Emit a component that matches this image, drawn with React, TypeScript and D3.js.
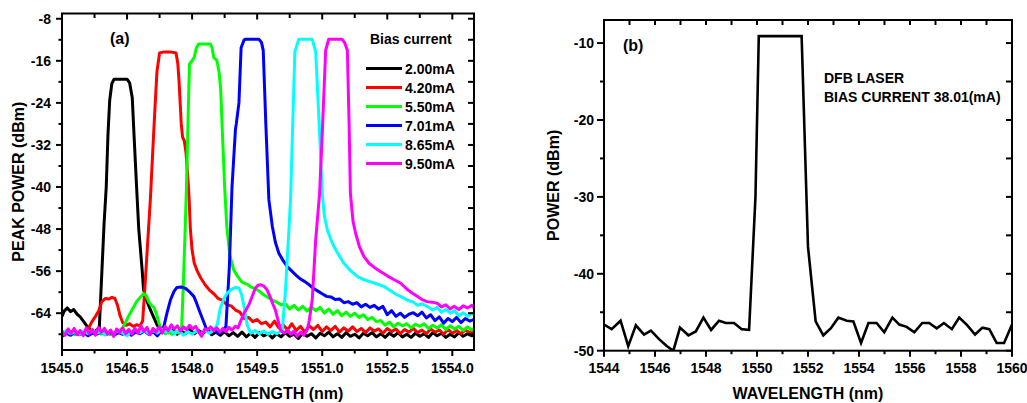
import React from "react";
import * as d3 from "d3";

type Pt = [number, number];

// ---------- Panel (a) data: wavelength (nm), peak power (dBm) ----------
const black200: Pt[] = [
[1545.0,-64.6],[1545.05,-63.6],[1545.12,-63.0],[1545.2,-63.7],[1545.27,-63.3],[1545.35,-64.2],[1545.42,-64.7],[1545.5,-65.6],[1545.58,-66.5],[1545.65,-67.1],[1545.72,-67.7],[1545.8,-67.2],[1545.86,-66.8],[1545.92,-56],[1545.97,-47],[1546.02,-40],[1546.06,-30],[1546.1,-23.5],[1546.15,-20.3],[1546.2,-19.5],[1546.5,-19.5],[1546.56,-20.2],[1546.62,-23],[1546.66,-30],[1546.72,-40],[1546.77,-48],[1546.85,-56],[1546.88,-59.5],[1546.95,-61.5],[1547.02,-63],[1547.1,-64.5],[1547.18,-66],[1547.27,-67.4],
[1547.35,-67.0],[1547.45,-67.7],[1547.55,-67.2],[1547.65,-68.0],[1547.75,-67.4],[1547.85,-67.9],[1547.95,-67.1],[1548.05,-67.9],[1548.15,-67.3],[1548.25,-67.8],[1548.35,-67.2],[1548.45,-68.1],[1548.55,-67.6],[1548.65,-68.2],[1548.75,-67.5],[1548.85,-68.3],[1548.95,-67.7],[1549.05,-68.4],[1549.15,-67.6],[1549.25,-68.5],[1549.35,-67.8],[1549.45,-68.6],[1549.55,-67.7],[1549.65,-68.3],[1549.75,-67.9],[1549.85,-68.7],[1549.95,-67.9],[1550.05,-68.5],[1550.15,-67.7],[1550.25,-68.4],[1550.35,-68.0],[1550.45,-68.8],[1550.55,-67.8],[1550.65,-68.4],[1550.75,-67.9],[1550.85,-68.7],[1550.95,-67.8],[1551.05,-68.3],[1551.15,-67.6],[1551.25,-68.5],[1551.35,-67.9],[1551.45,-68.6],[1551.55,-67.7],[1551.65,-68.4],[1551.75,-68.0],[1551.85,-68.7],[1551.95,-67.8],[1552.05,-68.3],[1552.15,-67.7],[1552.25,-68.5],[1552.35,-67.9],[1552.45,-68.6],[1552.55,-67.8],[1552.65,-68.4],[1552.75,-67.7],[1552.85,-68.5],[1552.95,-68.0],[1553.05,-68.6],[1553.15,-67.8],[1553.25,-68.4],[1553.35,-67.9],[1553.45,-68.6],[1553.55,-67.7],[1553.65,-68.3],[1553.75,-67.8],[1553.85,-68.6],[1553.95,-68.0],[1554.05,-68.5],[1554.15,-67.7],[1554.25,-68.4],[1554.35,-67.9],[1554.45,-68.3],[1554.5,-67.8]];

const red420: Pt[] = [
[1545.0,-68.3],[1545.1,-67.6],[1545.2,-68.0],[1545.3,-67.4],[1545.4,-67.9],[1545.5,-67.5],[1545.6,-67.0],[1545.7,-65.5],[1545.78,-64.5],[1545.85,-63.5],[1545.92,-61.8],[1546.0,-61.2],[1546.08,-61.3],[1546.15,-61.0],[1546.22,-61.2],[1546.28,-62.5],[1546.34,-64.5],[1546.4,-65.8],[1546.48,-66.3],[1546.56,-66.0],[1546.64,-66.5],[1546.72,-66.2],[1546.8,-66.4],[1546.86,-65.5],[1546.92,-58],[1546.98,-50],[1547.04,-42],[1547.1,-32],[1547.15,-24],[1547.19,-18],[1547.25,-14.5],[1547.35,-14.3],[1547.5,-14.3],[1547.63,-14.5],[1547.67,-16.5],[1547.7,-20],[1547.75,-28],[1547.78,-30.5],[1547.82,-31.2],[1547.86,-33.5],[1547.9,-38],[1547.93,-42],[1547.96,-48],[1548.0,-52],[1548.05,-54.5],[1548.12,-56],[1548.2,-57.3],[1548.3,-58.6],[1548.4,-59.6],[1548.5,-60.3],[1548.6,-61.2],[1548.7,-61.5],[1548.8,-62.4],[1548.9,-62.6],[1549.0,-63.4],[1549.1,-63.8],[1549.2,-65.0],[1549.3,-64.8],[1549.4,-65.6],[1549.5,-65.2],[1549.6,-66.0],[1549.7,-65.7],[1549.8,-66.6],[1549.9,-65.5],[1550.0,-66.8],[1550.1,-66.2],[1550.2,-67.2],[1550.3,-66.0],[1550.4,-67.3],[1550.5,-66.5],[1550.6,-67.6],[1550.7,-66.4],[1550.8,-67.1],[1550.9,-66.3],[1551.0,-67.5],[1551.1,-66.6],[1551.2,-67.3],[1551.3,-66.5],[1551.4,-67.6],[1551.5,-66.8],[1551.6,-67.4],[1551.7,-66.6],[1551.8,-67.5],[1551.9,-66.9],[1552.0,-67.7],[1552.1,-66.8],[1552.2,-67.4],[1552.3,-67.0],[1552.4,-67.8],[1552.5,-66.9],[1552.6,-67.5],[1552.7,-67.0],[1552.8,-67.9],[1552.9,-67.1],[1553.0,-67.6],[1553.1,-66.9],[1553.2,-67.7],[1553.3,-67.2],[1553.4,-67.9],[1553.5,-67.0],[1553.6,-67.6],[1553.7,-67.2],[1553.8,-68.0],[1553.9,-67.1],[1554.0,-67.8],[1554.1,-67.3],[1554.2,-67.9],[1554.3,-67.2],[1554.4,-67.7],[1554.5,-67.4]];

const green550: Pt[] = [
[1545.0,-67.4],[1545.1,-67.9],[1545.2,-67.5],[1545.3,-68.1],[1545.4,-67.6],[1545.5,-68.0],[1545.6,-67.4],[1545.7,-67.9],[1545.8,-67.5],[1545.9,-68.0],[1546.0,-67.6],[1546.1,-68.1],[1546.2,-67.7],[1546.3,-67.4],[1546.4,-66.8],[1546.48,-65.5],[1546.56,-64.2],[1546.64,-63.0],[1546.72,-61.8],[1546.8,-61.0],[1546.88,-60.3],[1546.94,-60.6],[1547.0,-61.8],[1547.06,-62.5],[1547.12,-62.9],[1547.18,-64.2],[1547.24,-66.0],[1547.3,-67.2],[1547.38,-67.9],[1547.46,-67.6],[1547.54,-68.0],[1547.62,-67.5],[1547.7,-67.8],[1547.76,-66.5],[1547.8,-58],[1547.84,-48],[1547.87,-40],[1547.91,-26],[1547.94,-16.6],[1548.0,-16.0],[1548.05,-15.3],[1548.1,-13.5],[1548.15,-12.8],[1548.42,-12.8],[1548.46,-13.5],[1548.5,-15.4],[1548.57,-15.9],[1548.62,-18],[1548.66,-21.5],[1548.7,-30],[1548.75,-40],[1548.8,-47.5],[1548.87,-53],[1548.96,-55.8],[1549.05,-57],[1549.15,-58.1],[1549.27,-58.5],[1549.35,-59.0],[1549.45,-59.3],[1549.55,-59.8],[1549.65,-60.5],[1549.75,-61.0],[1549.85,-61.5],[1549.95,-61.9],[1550.05,-62.4],[1550.15,-62.2],[1550.25,-63.2],[1550.35,-62.5],[1550.45,-63.4],[1550.55,-62.7],[1550.65,-63.6],[1550.75,-62.8],[1550.85,-63.5],[1550.95,-62.9],[1551.05,-64.0],[1551.15,-63.2],[1551.25,-64.2],[1551.35,-63.5],[1551.45,-64.5],[1551.55,-63.8],[1551.65,-64.6],[1551.75,-64.0],[1551.85,-64.8],[1551.95,-64.3],[1552.05,-65.2],[1552.15,-64.8],[1552.25,-65.6],[1552.35,-65.4],[1552.45,-66.3],[1552.55,-65.7],[1552.65,-66.6],[1552.75,-65.9],[1552.85,-66.4],[1552.95,-66.0],[1553.05,-66.8],[1553.15,-66.1],[1553.25,-66.5],[1553.35,-66.0],[1553.45,-66.9],[1553.55,-66.3],[1553.65,-66.8],[1553.75,-66.2],[1553.85,-67.1],[1553.95,-66.4],[1554.05,-67.0],[1554.15,-66.5],[1554.25,-67.3],[1554.35,-66.6],[1554.45,-67.2],[1554.5,-66.9]];

const blue701: Pt[] = [
[1545.0,-68.4],[1545.1,-67.8],[1545.2,-68.2],[1545.3,-67.6],[1545.4,-68.1],[1545.5,-67.7],[1545.6,-68.3],[1545.7,-67.8],[1545.8,-68.0],[1545.9,-67.5],[1546.0,-68.1],[1546.1,-67.6],[1546.2,-68.2],[1546.3,-67.7],[1546.4,-68.0],[1546.5,-67.5],[1546.6,-68.2],[1546.7,-67.6],[1546.8,-67.9],[1546.9,-67.4],[1547.0,-68.0],[1547.1,-67.5],[1547.2,-68.3],[1547.28,-67.4],[1547.35,-66.5],[1547.42,-64.0],[1547.5,-61.5],[1547.58,-59.9],[1547.65,-59.1],[1547.75,-59.0],[1547.85,-59.3],[1547.95,-60.0],[1548.04,-60.8],[1548.1,-62.0],[1548.19,-64.0],[1548.26,-65.5],[1548.32,-66.8],[1548.4,-67.6],[1548.5,-67.2],[1548.6,-67.8],[1548.7,-67.4],[1548.78,-66.5],[1548.86,-55],[1548.92,-40],[1549.0,-29],[1549.02,-27.9],[1549.08,-24],[1549.13,-13.5],[1549.2,-12.0],[1549.23,-11.9],[1549.54,-11.9],[1549.6,-12.5],[1549.64,-14],[1549.7,-28],[1549.77,-42.4],[1549.85,-47.5],[1549.92,-50.5],[1550.0,-52.6],[1550.1,-54.0],[1550.2,-55.2],[1550.3,-56.0],[1550.4,-56.8],[1550.5,-57.5],[1550.6,-58.0],[1550.7,-58.6],[1550.8,-59.3],[1550.9,-59.8],[1551.0,-60.3],[1551.1,-60.8],[1551.2,-60.9],[1551.3,-61.4],[1551.4,-61.3],[1551.5,-62.0],[1551.6,-61.8],[1551.7,-62.3],[1551.8,-62.0],[1551.9,-62.8],[1552.0,-62.3],[1552.1,-62.9],[1552.2,-62.5],[1552.3,-63.2],[1552.4,-62.7],[1552.5,-64.3],[1552.6,-63.5],[1552.7,-64.6],[1552.8,-64.0],[1552.9,-64.8],[1553.0,-64.2],[1553.1,-63.9],[1553.2,-64.5],[1553.3,-63.8],[1553.4,-64.9],[1553.5,-64.3],[1553.6,-65.4],[1553.7,-64.7],[1553.8,-65.9],[1553.9,-65.0],[1554.0,-65.6],[1554.1,-64.8],[1554.2,-65.8],[1554.3,-65.0],[1554.4,-65.5],[1554.5,-65.2]];

const cyan865: Pt[] = [
[1545.0,-67.8],[1545.1,-67.3],[1545.2,-67.9],[1545.3,-67.5],[1545.4,-68.0],[1545.5,-67.4],[1545.6,-67.9],[1545.7,-67.3],[1545.8,-67.8],[1545.9,-67.5],[1546.0,-68.1],[1546.1,-67.4],[1546.2,-67.9],[1546.3,-67.2],[1546.4,-67.8],[1546.5,-68.3],[1546.6,-67.5],[1546.7,-67.0],[1546.8,-67.7],[1546.9,-67.2],[1547.0,-67.9],[1547.1,-67.3],[1547.2,-67.8],[1547.3,-67.0],[1547.4,-67.6],[1547.5,-67.2],[1547.6,-67.9],[1547.7,-67.3],[1547.8,-68.2],[1547.9,-67.5],[1548.0,-68.0],[1548.1,-67.4],[1548.2,-67.9],[1548.3,-67.3],[1548.4,-67.8],[1548.5,-67.2],[1548.58,-66.2],[1548.65,-63.0],[1548.73,-61.3],[1548.81,-60.2],[1548.9,-59.5],[1549.0,-59.1],[1549.08,-59.2],[1549.14,-60.5],[1549.19,-62.4],[1549.27,-66.2],[1549.35,-67.8],[1549.45,-67.3],[1549.55,-67.9],[1549.65,-67.4],[1549.75,-68.0],[1549.85,-67.5],[1549.95,-67.9],[1550.08,-67.3],[1550.15,-60],[1550.22,-50],[1550.27,-42.4],[1550.32,-28],[1550.37,-14.3],[1550.46,-11.9],[1550.77,-11.9],[1550.85,-14.3],[1550.93,-28],[1551.0,-41.2],[1551.05,-45.5],[1551.12,-48.2],[1551.2,-50.0],[1551.27,-51.3],[1551.4,-53.2],[1551.5,-54.5],[1551.65,-55.9],[1551.81,-57.0],[1551.95,-57.6],[1552.1,-58.0],[1552.25,-58.4],[1552.42,-58.9],[1552.55,-59.6],[1552.7,-60.4],[1552.85,-61.0],[1552.96,-61.5],[1553.1,-61.9],[1553.2,-62.5],[1553.3,-62.2],[1553.42,-62.7],[1553.55,-63.4],[1553.65,-62.9],[1553.75,-63.8],[1553.85,-63.3],[1553.96,-64.0],[1554.05,-63.5],[1554.15,-64.5],[1554.25,-63.9],[1554.35,-64.6],[1554.45,-64.0],[1554.5,-64.3]];

const magenta950: Pt[] = [
[1545.0,-67.5],[1545.07,-68.2],[1545.14,-67.0],[1545.21,-67.8],[1545.28,-66.9],[1545.35,-68.1],[1545.42,-67.3],[1545.49,-68.3],[1545.56,-66.8],[1545.63,-67.9],[1545.7,-67.1],[1545.77,-68.2],[1545.84,-66.7],[1545.91,-67.6],[1545.98,-66.9],[1546.05,-68.0],[1546.12,-67.2],[1546.19,-68.4],[1546.26,-67.0],[1546.33,-67.7],[1546.4,-66.8],[1546.47,-67.9],[1546.54,-67.1],[1546.61,-68.0],[1546.68,-66.9],[1546.75,-67.8],[1546.82,-66.4],[1546.89,-67.5],[1546.96,-66.7],[1547.03,-68.1],[1547.1,-66.9],[1547.17,-67.6],[1547.24,-66.6],[1547.31,-67.8],[1547.38,-66.5],[1547.45,-67.3],[1547.52,-66.2],[1547.59,-67.0],[1547.66,-66.4],[1547.73,-67.4],[1547.8,-66.6],[1547.87,-67.1],[1547.94,-66.3],[1548.01,-67.0],[1548.08,-66.5],[1548.15,-67.5],[1548.22,-68.4],[1548.29,-67.0],[1548.36,-67.2],[1548.43,-66.6],[1548.5,-67.3],[1548.57,-66.8],[1548.64,-67.6],[1548.71,-66.9],[1548.78,-67.5],[1548.85,-66.7],[1548.92,-67.2],[1549.0,-66.5],[1549.06,-66.8],[1549.11,-65.7],[1549.2,-64.0],[1549.31,-62.4],[1549.4,-60.5],[1549.46,-59.2],[1549.52,-58.7],[1549.58,-58.6],[1549.65,-58.8],[1549.73,-59.6],[1549.8,-60.9],[1549.86,-62.2],[1549.92,-63.4],[1549.98,-65.3],[1550.04,-67.2],[1550.12,-67.8],[1550.2,-67.2],[1550.28,-68.0],[1550.35,-67.4],[1550.42,-68.4],[1550.5,-67.6],[1550.58,-68.2],[1550.65,-67.2],[1550.7,-65.5],[1550.77,-61.5],[1550.85,-50],[1550.94,-41.2],[1551.0,-30],[1551.08,-14],[1551.15,-11.9],[1551.46,-11.9],[1551.52,-12.6],[1551.58,-14],[1551.62,-28],[1551.65,-41.2],[1551.71,-46.5],[1551.77,-48.8],[1551.86,-51.4],[1551.96,-53.2],[1552.08,-54.5],[1552.2,-55.3],[1552.35,-56.1],[1552.5,-56.9],[1552.65,-57.6],[1552.81,-58.3],[1552.95,-59.4],[1553.08,-60.2],[1553.19,-60.8],[1553.3,-61.4],[1553.42,-61.8],[1553.53,-61.9],[1553.65,-62.1],[1553.75,-62.8],[1553.85,-62.4],[1553.95,-63.2],[1554.04,-62.7],[1554.15,-63.3],[1554.25,-62.6],[1554.35,-63.0],[1554.45,-62.5],[1554.5,-63.0]];

const seriesLabels = ["2.00mA", "4.20mA", "5.50mA", "7.01mA", "8.65mA", "9.50mA"];
const seriesColors = ["#000000", "#ff0000", "#00ff00", "#0000ff", "#00ffff", "#ff00ff"];
const seriesData = [black200, red420, green550, blue701, cyan865, magenta950];

const xTicksA = [1545.0, 1546.5, 1548.0, 1549.5, 1551.0, 1552.5, 1554.0];
const xMinorTicksA = [1545.75, 1547.25, 1548.75, 1550.25, 1551.75, 1553.25];
const yTicksA = [-8, -16, -24, -32, -40, -48, -56, -64];
const yMinorTicksA = [-12, -20, -28, -36, -44, -52, -60, -68];

// ---------- Panel (b) data ----------
const dfbSpectrum: Pt[] = [
[1544.0,-46.6],[1544.3,-47.2],[1544.65,-46.1],[1544.95,-49.4],[1545.25,-46.7],[1545.57,-47.9],[1545.84,-47.4],[1546.16,-48.5],[1546.46,-49.4],[1546.72,-50.0],[1546.98,-47.0],[1547.31,-48.0],[1547.6,-47.5],[1547.9,-45.7],[1548.2,-47.3],[1548.51,-46.1],[1548.78,-46.4],[1549.1,-46.4],[1549.4,-47.2],[1549.69,-47.3],[1549.94,-30.0],[1550.07,-9.1],[1551.75,-9.1],[1551.94,-30.0],[1552.0,-36.5],[1552.3,-46.2],[1552.6,-48.0],[1552.89,-47.1],[1553.19,-45.7],[1553.52,-46.1],[1553.78,-46.2],[1554.08,-49.0],[1554.37,-46.4],[1554.69,-46.4],[1554.99,-47.6],[1555.31,-45.7],[1555.58,-46.6],[1555.87,-46.9],[1556.17,-47.6],[1556.48,-46.4],[1556.75,-46.4],[1557.05,-47.1],[1557.33,-46.4],[1557.64,-47.2],[1557.93,-45.7],[1558.25,-46.7],[1558.55,-47.9],[1558.84,-47.0],[1559.11,-47.2],[1559.4,-49.0],[1559.69,-49.0],[1560.0,-46.6]];

const xTicksB = [1544, 1546, 1548, 1550, 1552, 1554, 1556, 1558, 1560];
const xMinorTicksB = [1545, 1547, 1549, 1551, 1553, 1555, 1557, 1559];
const yTicksB = [-10, -20, -30, -40, -50];
const yMinorTicksB = [-15, -25, -35, -45];

const FONT = "'Liberation Sans', Arial, Helvetica, sans-serif";

export default function App() {
  const xA = d3.scaleLinear().domain([1545, 1554.5]).range([62, 474]);
  const yA = d3.scaleLinear().domain([-71, -7]).range([350, 13.5]);
  const xB = d3.scaleLinear().domain([1544, 1560]).range([604, 1012]);
  const yB = d3.scaleLinear().domain([-50, -7]).range([350.7, 20]);

  const lineA = d3.line<Pt>().x((d) => xA(d[0])).y((d) => yA(d[1]));
  const lineB = d3.line<Pt>().x((d) => xB(d[0])).y((d) => yB(d[1]));

  const [aL, aR] = xA.range();
  const [aB, aT] = yA.range();
  const [bL, bR] = xB.range();
  const [bB, bT] = yB.range();

  const MAJ = 6;
  const MIN = 3.5;

  return (
    <svg
      width={1027}
      height={403}
      style={{ position: "absolute", left: 0, top: 0, background: "#fff" }}
      fontFamily={FONT}
      fontWeight="bold"
    >
      <defs>
        <clipPath id="clipA">
          <rect x={aL} y={aT} width={aR - aL} height={aB - aT} />
        </clipPath>
        <clipPath id="clipB">
          <rect x={bL} y={bT} width={bR - bL} height={bB - bT} />
        </clipPath>
      </defs>
      <rect x={0} y={0} width={1027} height={403} fill="#fff" />

      {/* ===== Panel (a) ===== */}
      <g clipPath="url(#clipA)">
        {seriesData.map((s, i) => (
          <path
            key={i}
            d={lineA(s) || ""}
            fill="none"
            stroke={seriesColors[i]}
            strokeWidth={3}
            strokeLinejoin="round"
          />
        ))}
      </g>
      <rect x={aL} y={aT} width={aR - aL} height={aB - aT} fill="none" stroke="#000" strokeWidth={2} />
      {xTicksA.map((t) => (
        <g key={"xa" + t}>
          <line x1={xA(t)} x2={xA(t)} y1={aB} y2={aB + MAJ} stroke="#000" strokeWidth={2} />
          <line x1={xA(t)} x2={xA(t)} y1={aT} y2={aT + MAJ} stroke="#000" strokeWidth={2} />
          <text x={xA(t)} y={373} textAnchor="middle" fontSize={14}>{t.toFixed(1)}</text>
        </g>
      ))}
      {xMinorTicksA.map((t) => (
        <g key={"xam" + t}>
          <line x1={xA(t)} x2={xA(t)} y1={aB} y2={aB + MIN} stroke="#000" strokeWidth={2} />
          <line x1={xA(t)} x2={xA(t)} y1={aT} y2={aT + MIN + 1} stroke="#000" strokeWidth={2} />
        </g>
      ))}
      {yTicksA.map((t) => (
        <g key={"ya" + t}>
          <line x1={aL - MAJ} x2={aL} y1={yA(t)} y2={yA(t)} stroke="#000" strokeWidth={2} />
          <line x1={aR - MAJ} x2={aR} y1={yA(t)} y2={yA(t)} stroke="#000" strokeWidth={2} />
          <text x={51} y={yA(t) + 5} textAnchor="end" fontSize={14}>{t}</text>
        </g>
      ))}
      {yMinorTicksA.map((t) => (
        <g key={"yam" + t}>
          <line x1={aL - MIN} x2={aL} y1={yA(t)} y2={yA(t)} stroke="#000" strokeWidth={2} />
          <line x1={aR - MAJ} x2={aR} y1={yA(t)} y2={yA(t)} stroke="#000" strokeWidth={2} />
        </g>
      ))}
      <text x={(aL + aR) / 2} y={399} textAnchor="middle" fontSize={16}>WAVELENGTH (nm)</text>
      <text transform={`translate(24, ${(aT + aB) / 2}) rotate(-90)`} textAnchor="middle" fontSize={16}>
        PEAK POWER (dBm)
      </text>
      <text x={110} y={44} fontSize={16}>(a)</text>
      <text x={370} y={44} fontSize={14}>Bias current</text>
      {seriesLabels.map((lab, i) => (
        <g key={lab}>
          <line x1={366} x2={402} y1={68.5 + i * 19} y2={68.5 + i * 19} stroke={seriesColors[i]} strokeWidth={3} />
          <text x={405} y={73.5 + i * 19} fontSize={14}>{lab}</text>
        </g>
      ))}

      {/* ===== Panel (b) ===== */}
      <g clipPath="url(#clipB)">
        <path d={lineB(dfbSpectrum) || ""} fill="none" stroke="#000" strokeWidth={2.6} strokeLinejoin="miter" />
      </g>
      <rect x={bL} y={bT} width={bR - bL} height={bB - bT} fill="none" stroke="#000" strokeWidth={2} />
      {xTicksB.map((t) => (
        <g key={"xb" + t}>
          <line x1={xB(t)} x2={xB(t)} y1={bB} y2={bB + MAJ} stroke="#000" strokeWidth={2} />
          <line x1={xB(t)} x2={xB(t)} y1={bT} y2={bT + 5} stroke="#000" strokeWidth={2} />
          <text x={xB(t)} y={373} textAnchor="middle" fontSize={14}>{t}</text>
        </g>
      ))}
      {xMinorTicksB.map((t) => (
        <g key={"xbm" + t}>
          <line x1={xB(t)} x2={xB(t)} y1={bB} y2={bB + MIN} stroke="#000" strokeWidth={2} />
          <line x1={xB(t)} x2={xB(t)} y1={bT} y2={bT + 5} stroke="#000" strokeWidth={2} />
        </g>
      ))}
      {yTicksB.map((t) => (
        <g key={"yb" + t}>
          <line x1={bL - MAJ - 1} x2={bL} y1={yB(t)} y2={yB(t)} stroke="#000" strokeWidth={2} />
          <line x1={bR - MAJ} x2={bR} y1={yB(t)} y2={yB(t)} stroke="#000" strokeWidth={2} />
          <text x={594} y={yB(t) + 5} textAnchor="end" fontSize={14}>{t}</text>
        </g>
      ))}
      {yMinorTicksB.map((t) => (
        <g key={"ybm" + t}>
          <line x1={bL - MIN - 0.5} x2={bL} y1={yB(t)} y2={yB(t)} stroke="#000" strokeWidth={2} />
          <line x1={bR - MAJ} x2={bR} y1={yB(t)} y2={yB(t)} stroke="#000" strokeWidth={2} />
        </g>
      ))}
      <text x={(bL + bR) / 2} y={399} textAnchor="middle" fontSize={16}>WAVELENGTH (nm)</text>
      <text transform={`translate(559, ${(bT + bB) / 2}) rotate(-90)`} textAnchor="middle" fontSize={16}>
        POWER (dBm)
      </text>
      <text x={623} y={51} fontSize={16}>(b)</text>
      <text x={824} y={83} fontSize={14}>DFB LASER</text>
      <text x={824} y={102} fontSize={14}>BIAS CURRENT 38.01(mA)</text>
    </svg>
  );
}
